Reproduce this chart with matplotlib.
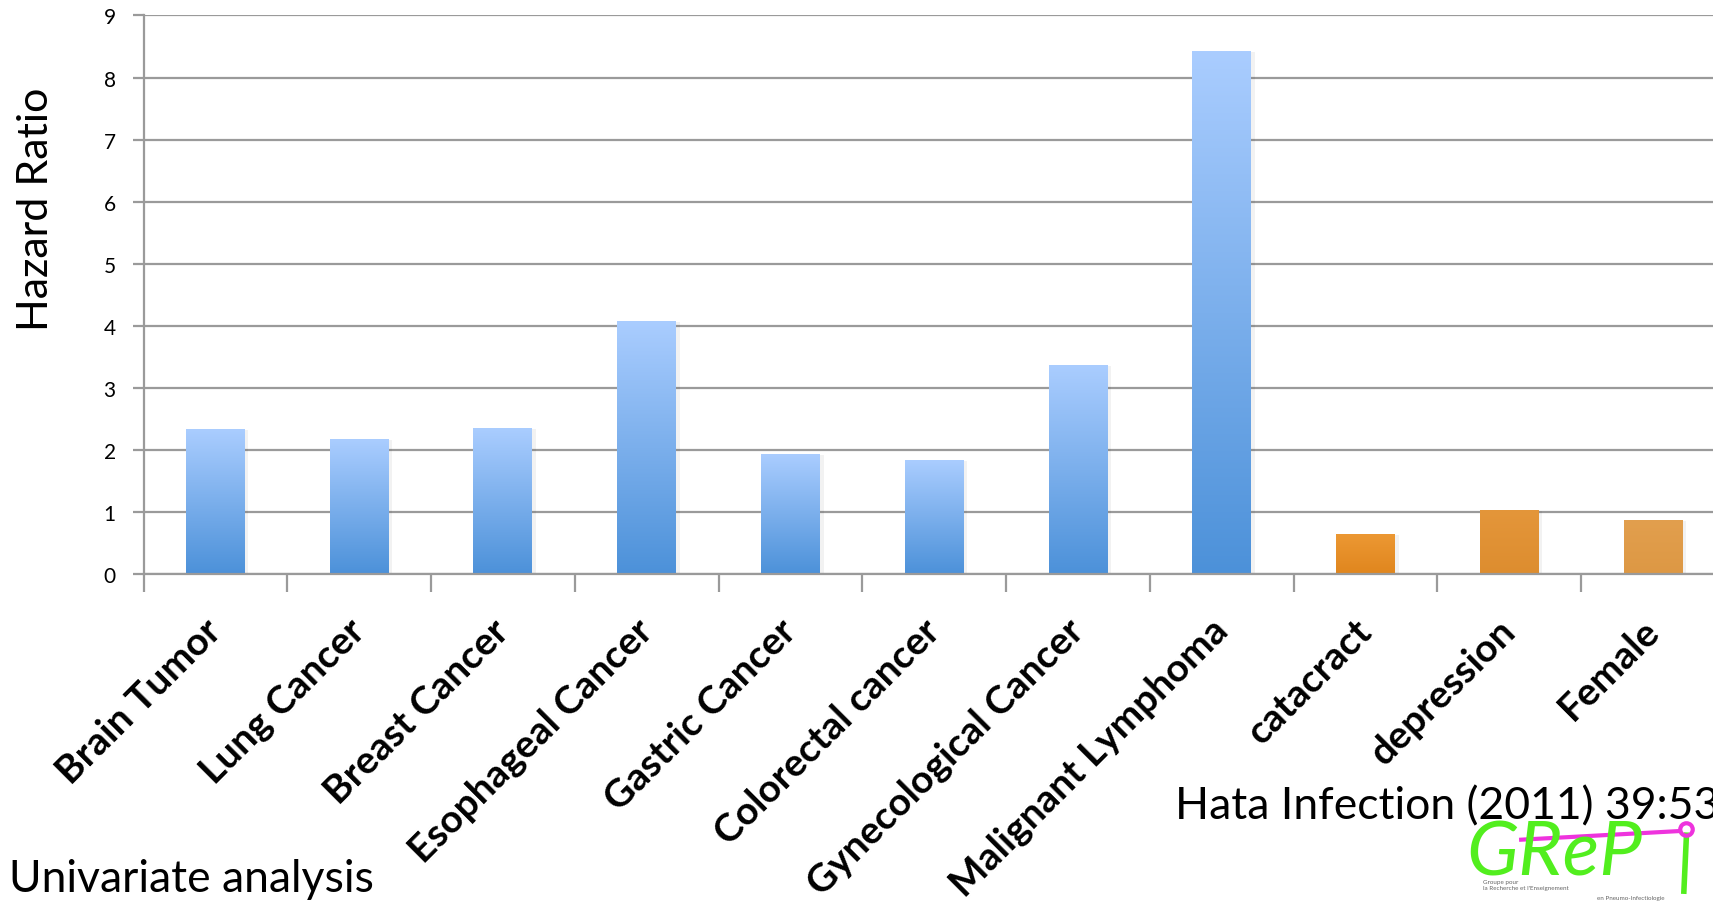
import matplotlib
matplotlib.use("Agg")
import matplotlib.pyplot as plt
import numpy as np
from matplotlib.colors import LinearSegmentedColormap

categories = ["Brain Tumor", "Lung Cancer", "Breast Cancer", "Esophageal Cancer",
              "Gastric Cancer", "Colorectal cancer", "Gynecological Cancer",
              "Malignant Lymphoma", "catacract", "depression", "Female"]
hazard_ratio = [2.32, 2.17, 2.35, 4.06, 1.92, 1.83, 3.35, 8.41, 0.64, 1.03, 0.86]
# gradient (top, bottom) per bar
bar_colors = [("#aacdff", "#4c91d9")] * 8 + [
    ("#ec9833", "#e0861e"),
    ("#e4963a", "#dd8d2f"),
    ("#e29f4e", "#dd9844"),
]
y_ticks = list(range(0, 10))

FONT = "Lato"
GREEN = "#52ee1e"
MAGENTA = "#ee33dd"

fig = plt.figure(figsize=(17.13, 9.03), dpi=100)
ax = fig.add_axes([0.0838, 0.3627, 0.9232, 0.6191])

x = np.arange(len(categories))
bars = ax.bar(x, hazard_ratio, width=0.41, color="none", zorder=3)

# paint each bar with a vertical gradient, light at the top
grad = np.linspace(0, 1, 256).reshape(-1, 1)
for b, (top, bottom) in zip(bars, bar_colors):
    cmap = LinearSegmentedColormap.from_list("g", [bottom, top])
    bx, bw, bh = b.get_x(), b.get_width(), b.get_height()
    # soft shadow on the right side
    ax.bar(bx + bw, bh, width=0.025, align="edge", color="#000000",
           alpha=0.05, zorder=2, linewidth=0)
    ax.imshow(grad, extent=[bx, bx + bw, 0, bh], origin="lower", aspect="auto",
              cmap=cmap, zorder=3, interpolation="bilinear")

ax.set_xlim(-0.5, len(categories) - 0.5)
ax.set_ylim(0, 9)
ax.set_yticks(y_ticks)
ax.yaxis.grid(True, color="#9a9a9a", linewidth=1.6, zorder=1)
ax.set_axisbelow(True)

for s in ("top", "right"):
    ax.spines[s].set_visible(False)
for s in ("left", "bottom"):
    ax.spines[s].set_color("#9a9a9a")
    ax.spines[s].set_linewidth(1.6)
    ax.spines[s].set_zorder(4)

ax.tick_params(axis="y", length=8, width=1.6, color="#9a9a9a", pad=12,
               labelsize=15)
for lab in ax.get_yticklabels():
    lab.set_family(FONT)

ax.set_xticks(x)
ax.set_xticks(np.arange(-0.5, len(categories)), minor=True)
ax.tick_params(axis="x", which="major", length=0, pad=36)
ax.tick_params(axis="x", which="minor", length=13, width=1.6, color="#9a9a9a")
ax.set_xticklabels(categories, rotation=45, ha="right", va="center",
                   rotation_mode="anchor", fontsize=28, fontweight="bold",
                   family=FONT)

fig.text(0.021, 0.768, "Hazard Ratio", rotation=90, ha="center", va="center",
         fontsize=31, family=FONT)
fig.text(0.005, 0.012, "Univariate analysis", ha="left", va="baseline",
         fontsize=32, family=FONT)
fig.text(0.686, 0.093, "Hata Infection (2011) 39:537", ha="left", va="baseline",
         fontsize=32, family=FONT)

# GRePI logo in the lower right corner
fig.text(0.856, 0.030, "GReP", color=GREEN, fontsize=55, style="italic",
         family=FONT, ha="left", va="baseline")
fig.add_artist(plt.Line2D([0.9845, 0.9830], [0.074, 0.012], color=GREEN,
                          linewidth=4, transform=fig.transFigure))
fig.add_artist(plt.Line2D([0.888, 0.9807], [0.0690, 0.0786], color=MAGENTA,
                          linewidth=3, transform=fig.transFigure))
fig.add_artist(plt.Line2D([0.9842], [0.0808], marker="o", markersize=9,
                          markerfacecolor="none", markeredgecolor=MAGENTA,
                          markeredgewidth=3, transform=fig.transFigure))
fig.text(0.866, 0.013, "Groupe pour\nla Recherche et l'Enseignement", fontsize=4.5,
         color="#666666", ha="left", va="bottom", linespacing=1.3,
         family=FONT)
fig.text(0.932, 0.002, "en Pneumo-Infectiologie", fontsize=4.5, color="#666666",
         ha="left", va="bottom", family=FONT)

fig.savefig("out.png", dpi=100)
